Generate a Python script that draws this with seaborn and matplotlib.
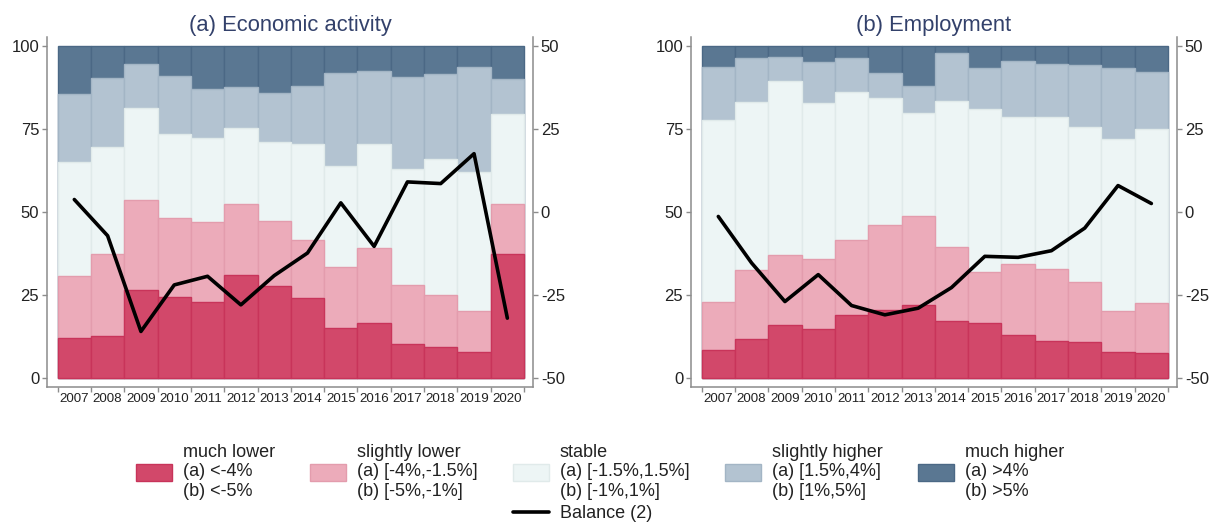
import numpy as np
import matplotlib
matplotlib.use("Agg")
import matplotlib.pyplot as plt
import seaborn as sns
from matplotlib.patches import Patch
from matplotlib.lines import Line2D

# ---------------- data ----------------
years = [str(y) for y in range(2007, 2021)]
categories = ["much lower", "slightly lower", "stable", "slightly higher", "much higher"]
ranges_a = ["<-4%", "[-4%,-1.5%]", "[-1.5%,1.5%]", "[1.5%,4%]", ">4%"]
ranges_b = ["<-5%", "[-5%,-1%]", "[-1%,1%]", "[1%,5%]", ">5%"]
titles = ["(a) Economic activity", "(b) Employment"]
left_ticks = [0, 25, 50, 75, 100]
right_ticks = [-50, -25, 0, 25, 50]

# (a) Economic activity: shares of answers (%)
act_much_lower     = [12.1, 12.6, 26.6, 24.6, 23.1, 31.2, 27.8, 24.3, 15.1, 16.6, 10.3, 9.5, 7.8, 37.5]
act_slightly_lower = [18.6, 24.9, 27.2, 23.5, 23.9, 21.4, 19.4, 17.2, 18.3, 22.6, 17.8, 15.6, 12.5, 15.0]
act_stable         = [34.3, 32.0, 27.6, 25.3, 25.2, 22.6, 23.9, 29.1, 30.6, 31.4, 34.9, 40.9, 41.8, 27.1]
act_slightly_higher= [20.6, 20.8, 13.3, 17.6, 15.0, 12.4, 14.8, 17.5, 28.0, 21.9, 27.7, 25.7, 31.6, 10.4]
act_much_higher    = [14.4, 9.7, 5.3, 9.0, 12.8, 12.4, 14.1, 11.9, 8.0, 7.5, 9.3, 8.3, 6.3, 10.0]
act_balance        = [3.8, -7.1, -35.9, -21.9, -19.3, -27.9, -19.1, -12.3, 2.8, -10.3, 9.1, 8.6, 17.6, -31.9]

# (b) Employment: shares of answers (%)
emp_much_lower     = [8.5, 11.8, 15.9, 14.9, 18.9, 20.6, 22.1, 17.1, 16.6, 13.1, 11.1, 10.9, 8.0, 7.7]
emp_slightly_lower = [14.6, 20.9, 21.3, 21.0, 22.6, 25.4, 26.8, 22.3, 15.3, 21.4, 21.9, 18.2, 12.4, 14.9]
emp_stable         = [54.6, 50.4, 52.2, 46.8, 44.8, 38.3, 30.8, 44.0, 49.0, 44.0, 45.7, 46.6, 51.5, 52.5]
emp_slightly_higher= [16.0, 13.4, 7.3, 12.6, 10.0, 7.5, 8.4, 14.4, 12.6, 17.0, 16.0, 18.5, 21.6, 17.2]
emp_much_higher    = [6.3, 3.5, 3.3, 4.7, 3.7, 8.2, 11.9, 2.2, 6.5, 4.5, 5.3, 5.8, 6.5, 7.7]
emp_balance        = [-1.3, -15.3, -26.9, -18.8, -28.1, -30.9, -28.9, -22.7, -13.3, -13.6, -11.6, -4.8, 8.0, 2.6]

# ---------------- style ----------------
fills = ["#d2486a", "#ecabba", "#edf5f5", "#b3c3d1", "#5a7792"]
edges = ["#c8345a", "#e39cad", "#e0eaea", "#a3b5c5", "#4b6885"]
navy = "#33416b"
spine_col = "#8c8c8c"
txt_col = "#222222"

sns.set_theme(style="white")
plt.rcParams["font.family"] = ["Liberation Sans", "DejaVu Sans"]
plt.rcParams["axes.unicode_minus"] = False

W, H = 1216, 525
fig = plt.figure(figsize=(W / 100, H / 100), dpi=100)

ax_pos = [
    [47 / W, (H - 386.7) / H, 486 / W, 350 / H],
    [691 / W, (H - 386.7) / H, 486 / W, 350 / H],
]

panels = [
    ([act_much_lower, act_slightly_lower, act_stable, act_slightly_higher, act_much_higher], act_balance),
    ([emp_much_lower, emp_slightly_lower, emp_stable, emp_slightly_higher, emp_much_higher], emp_balance),
]

for k, (shares, balance) in enumerate(panels):
    ax = fig.add_axes(ax_pos[k])
    cum = np.cumsum(np.array(shares), axis=0)
    for i in range(4, -1, -1):
        sns.barplot(x=years, y=cum[i], color=fills[i], edgecolor=edges[i],
                    linewidth=1.0, width=1.0, saturation=1, errorbar=None, ax=ax)
    ax.set_xlabel("")
    ax.set_ylabel("")
    ax.set_xlim(-0.82, 13.77)
    ax.set_ylim(-2.53, 102.8)
    ax.set_yticks(left_ticks)
    ax.set_xticks(range(len(years)), labels=years)
    ax.set_xticks(np.arange(-0.5, len(years), 1.0), minor=True)
    ax.tick_params(axis="y", which="major", left=True, length=3.6, width=1,
                   color=spine_col, labelsize=12, labelcolor=txt_col, pad=2)
    ax.tick_params(axis="x", which="major", bottom=True, length=0, labelsize=9.6,
                   labelcolor=txt_col, pad=4.5)
    ax.tick_params(axis="x", which="minor", bottom=True, length=3.6, width=1,
                   color=spine_col)
    for s in ["top", "right"]:
        ax.spines[s].set_visible(False)
    for s in ["left", "bottom"]:
        ax.spines[s].set_color(spine_col)
        ax.spines[s].set_linewidth(1.1)
    ax.set_title(titles[k], fontsize=15.8, color=navy, pad=4)

    ax2 = ax.twinx()
    sns.lineplot(x=np.arange(len(years)), y=balance, color="black", linewidth=2.6, ax=ax2)
    ax2.set_ylim(-52.53, 52.8)
    ax2.set_xlim(-0.82, 13.77)
    ax2.set_yticks(right_ticks)
    ax2.set_ylabel("")
    ax2.tick_params(axis="y", right=True, length=3.6, width=1, color=spine_col,
                    labelsize=12, labelcolor=txt_col, pad=2)
    for s in ["top", "left", "bottom"]:
        ax2.spines[s].set_visible(False)
    ax2.spines["right"].set_color(spine_col)
    ax2.spines["right"].set_linewidth(1.1)

# ---------------- legend ----------------
handles = [Patch(facecolor=fills[i], edgecolor=edges[i], linewidth=1) for i in range(5)]
labels = [f"{categories[i]}\n(a) {ranges_a[i]}\n(b) {ranges_b[i]}" for i in range(5)]
fs = 13
leg = fig.legend(handles, labels, ncol=5, loc="center left",
                 bbox_to_anchor=(136 / W, 1 - 472 / H), frameon=False, fontsize=fs,
                 handlelength=2.0, handleheight=1.1, handletextpad=0.6,
                 columnspacing=1.95, borderpad=0, borderaxespad=0, labelcolor=txt_col)
for t in leg.get_texts():
    t.set_linespacing(1.2)
fig.canvas.draw()
x3 = leg.legend_handles[2].get_window_extent().x0
leg2 = fig.legend([Line2D([], [], color="black", linewidth=2.6)], ["Balance (2)"],
                  loc="center left", bbox_to_anchor=(x3 / W, 1 - 514 / H), frameon=False,
                  fontsize=fs, handlelength=2.0, handletextpad=0.6, borderpad=0,
                  borderaxespad=0, labelcolor=txt_col)

fig.savefig("out.png", dpi=100)
